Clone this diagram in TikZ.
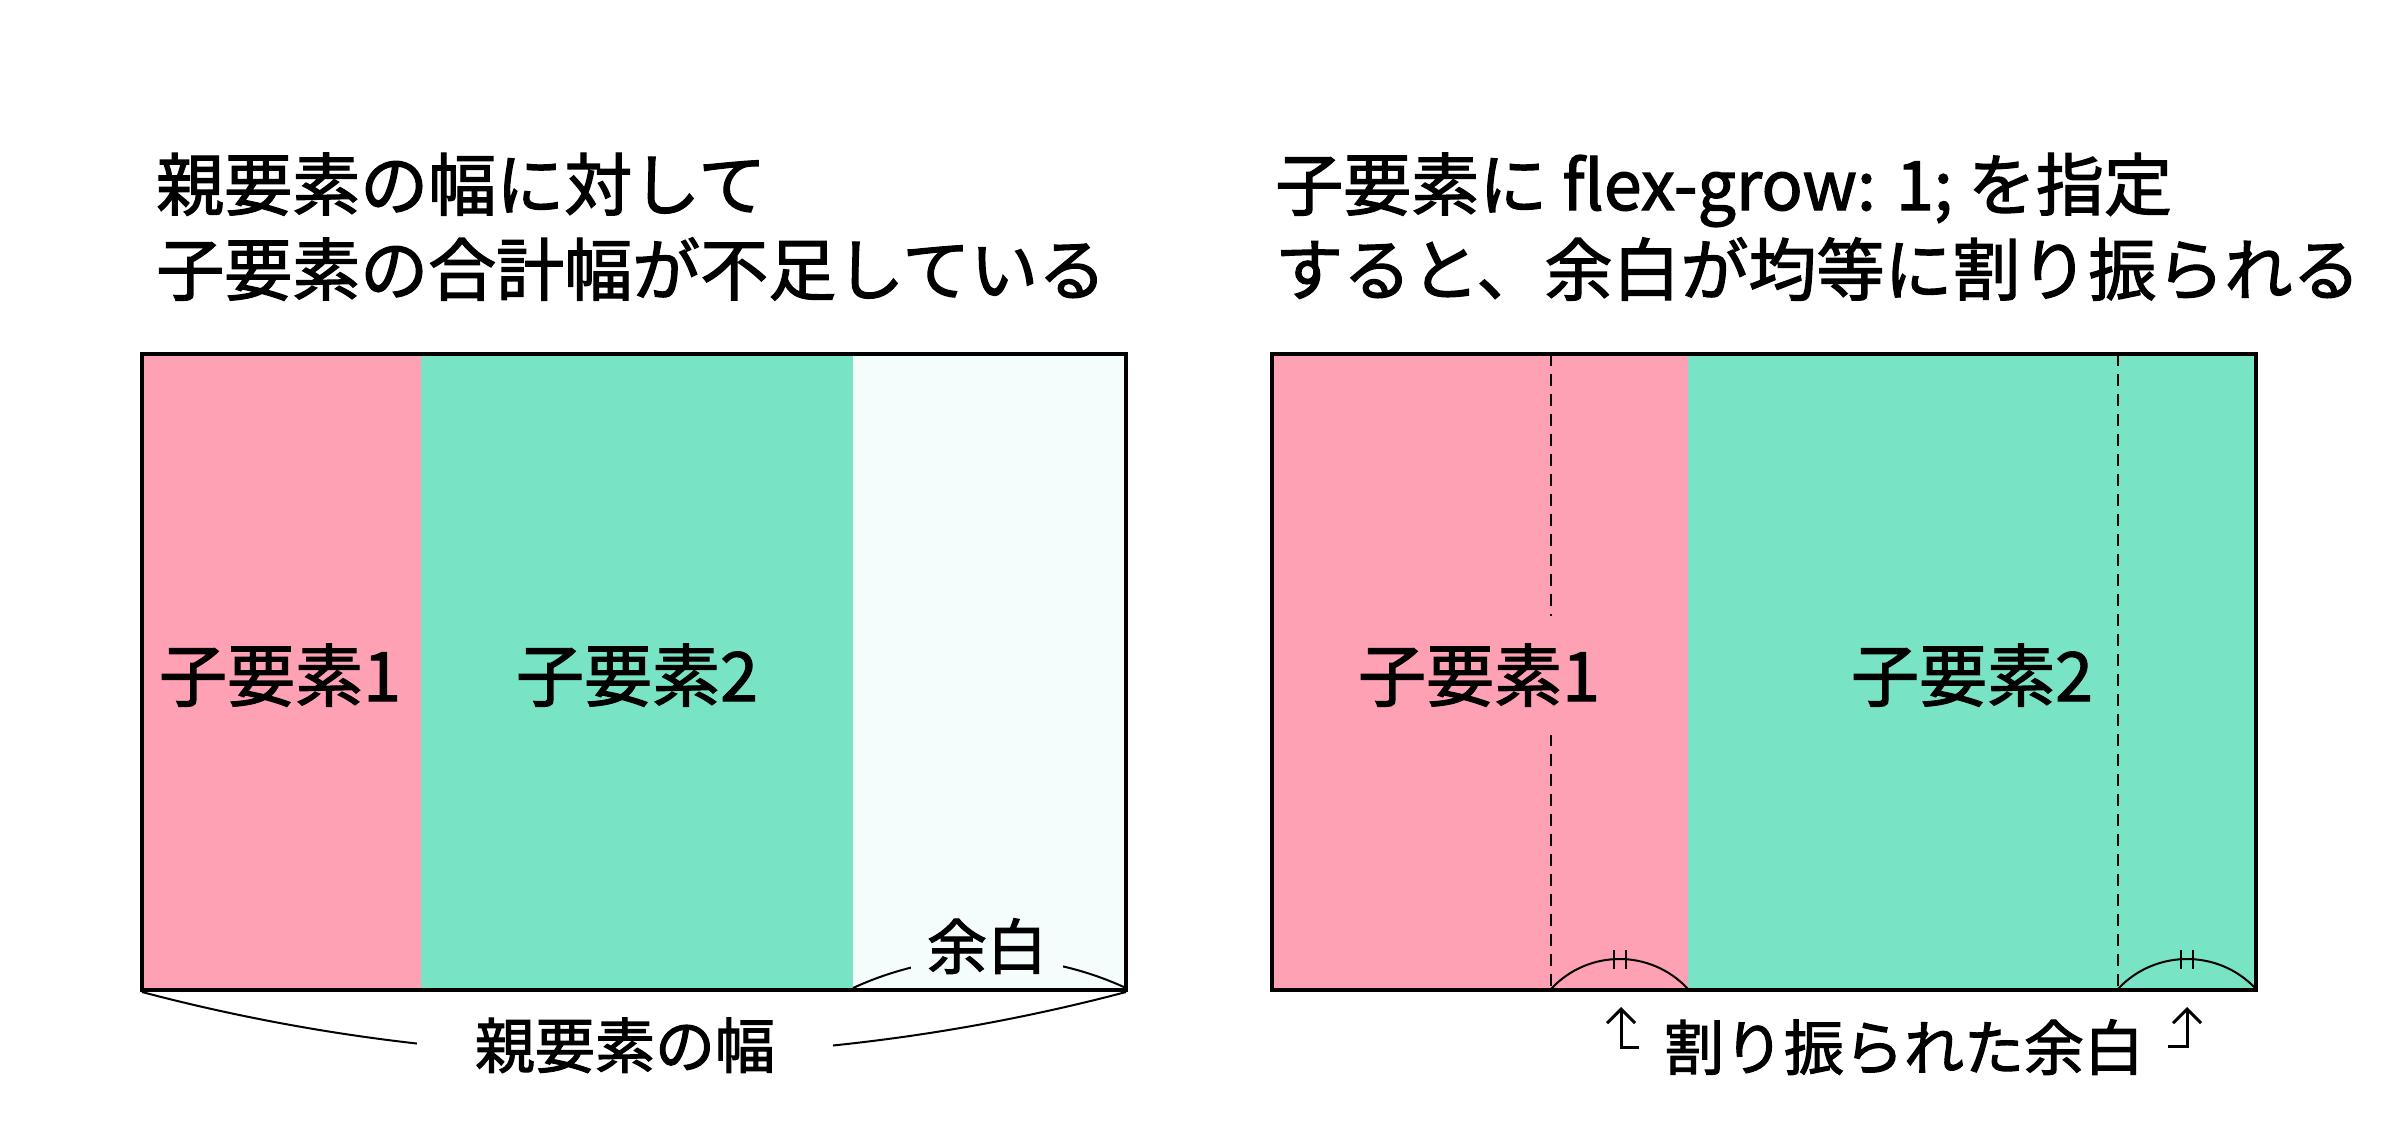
\documentclass[tikz,border=0pt]{standalone}
\usepackage{fontspec}
\setmainfont{Noto Sans CJK JP}[FakeBold=1.8]
\usetikzlibrary{arrows.meta}
\definecolor{pinkc}{RGB}{255,161,180}
\definecolor{greenc}{RGB}{120,228,197}
\definecolor{palec}{RGB}{245,252,252}
\tikzset{
  ttl/.style={anchor=base west, inner sep=0pt, font=\fontsize{68pt}{80pt}\selectfont},
  boxlbl/.style={anchor=base, inner xsep=10pt, inner ysep=28pt, font=\fontsize{68pt}{80pt}\selectfont},
  sublbl/.style={anchor=base, inner ysep=4pt, font=\fontsize{60pt}{72pt}\selectfont},
  boxframe/.style={draw=black, line width=3.5pt},
  guideline/.style={draw=black, line width=1.5pt, dash pattern=on 12pt off 8pt},
  bracearc/.style={draw=black, line width=2pt},
  tickmark/.style={draw=black, line width=2pt},
  pointer/.style={draw=black, line width=3pt, line join=miter, -{Straight Barb[length=14pt,width=28pt]}},
}
\begin{document}
\begin{tikzpicture}[x=1pt,y=-1pt]
\useasboundingbox (0,0) rectangle (2400,1130);
\fill[white] (0,0) rectangle (2400,1130);
% titles
\node[ttl] (t1a) at (156,210) {親要素の幅に対して};
\node[ttl] (t1b) at (156,295) {子要素の合計幅が不足している};
\node[ttl] (t2a) at (1275,210) {子要素に flex-grow: 1; を指定};
\node[ttl] (t2b) at (1275,295) {すると、余白が均等に割り振られる};
% left box
\fill[pinkc] (142,354) rectangle (421,990);
\fill[greenc] (421,354) rectangle (853,990);
\fill[palec] (853,354) rectangle (1126,990);
\node[boxlbl] (lc1) at (280,701) {子要素1};
\node[boxlbl] (lc2) at (637,701) {子要素2};
% right box
\fill[pinkc] (1272,354) rectangle (1688,990);
\fill[greenc] (1688,354) rectangle (2256,990);
\coordinate (d1t) at (1551,354); \coordinate (d1b) at (1551,990);
\coordinate (d2t) at (2118,354); \coordinate (d2b) at (2118,990);
\draw[guideline] (d1t) -- (d1b);
\draw[guideline] (d2t) -- (d2b);
\node[boxlbl, fill=pinkc] (rc1) at (1479,701) {子要素1};
\node[boxlbl] (rc2) at (1972,701) {子要素2};
% arcs in right box
\coordinate (a1s) at (1551,989); \coordinate (a1e) at (1688,989);
\coordinate (a2s) at (2118,989); \coordinate (a2e) at (2256,989);
\draw[bracearc] (a1s) .. controls +(37,-40) and +(-37,-40) .. (a1e);
\draw[bracearc] (a2s) .. controls +(37,-40) and +(-37,-40) .. (a2e);
\draw[tickmark] (1613.5,950) -- (1613.5,969);
\draw[tickmark] (1625.5,950) -- (1625.5,969);
\draw[tickmark] (2181,950) -- (2181,969);
\draw[tickmark] (2193,950) -- (2193,969);
% arc for margin in left box
\coordinate (ms) at (853,988); \coordinate (me) at (1126,988);
\draw[bracearc] (ms) .. controls +(86.6,-40) and +(-86.6,-40) .. (me);
% box frames
\draw[boxframe] (142,354) rectangle (1126,990);
\draw[boxframe] (1272,354) rectangle (2256,990);
% parent width brace
\coordinate (ps) at (142,992); \coordinate (pe) at (1126,992);
\draw[bracearc] (ps) .. controls +(322,85) and +(-322,85) .. (pe);
% labels under
\node[sublbl, fill=palec, inner xsep=16pt] (yohaku) at (987,969) {余白};
\node[sublbl, fill=white, inner xsep=58pt] (oya) at (625,1068) {親要素の幅};
\node[sublbl] (wari) at (1904,1070) {割り振られた余白};
% pointers
\coordinate (p1a) at (1639,1047); \coordinate (p1b) at (1621,1047); \coordinate (p1c) at (1621,1007);
\coordinate (p2a) at (2168,1046); \coordinate (p2b) at (2187,1046); \coordinate (p2c) at (2187,1007);
\draw[pointer] (p1a) -- (p1b) -- (p1c);
\draw[pointer] (p2a) -- (p2b) -- (p2c);
\end{tikzpicture}
\end{document}
